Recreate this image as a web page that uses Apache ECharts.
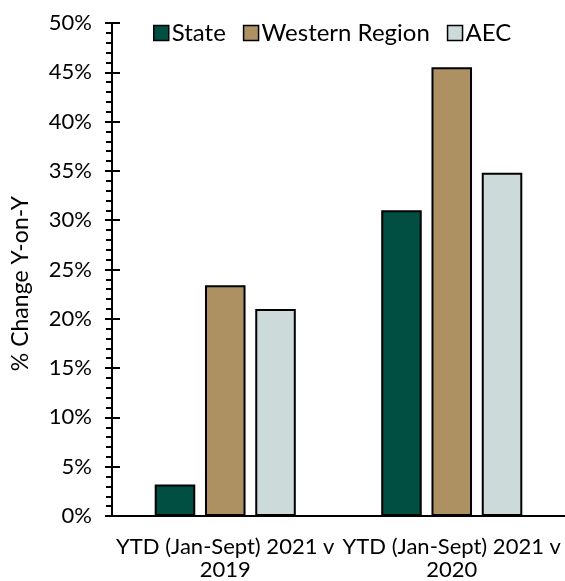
<!DOCTYPE html>
<html>
<head>
<meta charset="utf-8">
<script src="https://cdn.jsdelivr.net/npm/echarts@6/dist/echarts.min.js"></script>
<style>
  html, body { margin: 0; padding: 0; background: #fff; }
  #chart { width: 565px; height: 581px; }
</style>
</head>
<body>
<div id="chart"></div>
<script>
var categories = ['YTD (Jan-Sept) 2021 v\n2019', 'YTD (Jan-Sept) 2021 v\n2020'];
var stateVals = [3.2, 31.0];
var westernVals = [23.4, 45.5];
var aecVals = [21.0, 34.8];
var yTicks = [0, 5, 10, 15, 20, 25, 30, 35, 40, 45, 50];

var FONT = 'Lato';
var chart = echarts.init(document.getElementById('chart'));

function barSeries(name, data, color) {
  return {
    name: name,
    type: 'bar',
    data: data,
    barWidth: '17.9%',
    barGap: '24%',
    itemStyle: { color: color, borderColor: '#000', borderWidth: 2 }
  };
}

var option = {
  animation: false,
  textStyle: { fontFamily: FONT },
  grid: { left: 112, right: -5, top: 23, bottom: 60, containLabel: false },
  legend: {
    top: 16,
    left: 148,
    itemWidth: 15,
    itemHeight: 15,
    itemGap: 17,
    icon: 'rect',
    textStyle: { fontSize: 24, color: '#000', fontFamily: FONT, padding: [0, 0, 0, -2] },
    data: ['State', 'Western Region', 'AEC'],
    itemStyle: { borderColor: '#000', borderWidth: 1.5 }
  },
  xAxis: {
    type: 'category',
    data: categories,
    axisLine: { lineStyle: { color: '#000', width: 2 } },
    axisTick: { show: false },
    axisLabel: { fontSize: 22, color: '#000', lineHeight: 23, margin: 19, fontFamily: FONT, interval: 0 }
  },
  yAxis: [{
    type: 'value',
    min: 0,
    max: 50,
    interval: 5,
    name: '% Change Y-on-Y',
    nameLocation: 'middle',
    nameGap: 80,
    nameTextStyle: { fontSize: 23, color: '#000', fontFamily: FONT, padding: [0, 28, 0, 0] },
    axisLine: { show: true, lineStyle: { color: '#000', width: 2 } },
    axisTick: { show: true, length: 7, lineStyle: { color: '#000', width: 2 } },
    minorTick: { show: true, splitNumber: 5, length: 6, lineStyle: { color: '#000', width: 2 } },
    splitLine: { show: false },
    axisLabel: {
      fontSize: 22, color: '#000', margin: 20, fontFamily: FONT,
      formatter: function (v) { return yTicks.indexOf(v) >= 0 ? v + '%' : ''; }
    }
  }, {
    type: 'value',
    position: 'left',
    min: 0,
    max: 50,
    interval: 5,
    axisLine: { show: false },
    axisTick: { show: true, inside: true, length: 8, lineStyle: { color: '#000', width: 2 } },
    splitLine: { show: false },
    axisLabel: { show: false }
  }],
  series: [
    barSeries('State', stateVals, '#004F42'),
    barSeries('Western Region', westernVals, '#AE9163'),
    barSeries('AEC', aecVals, '#CCDAD9')
  ]
};
chart.setOption(option);
</script>
</body>
</html>
